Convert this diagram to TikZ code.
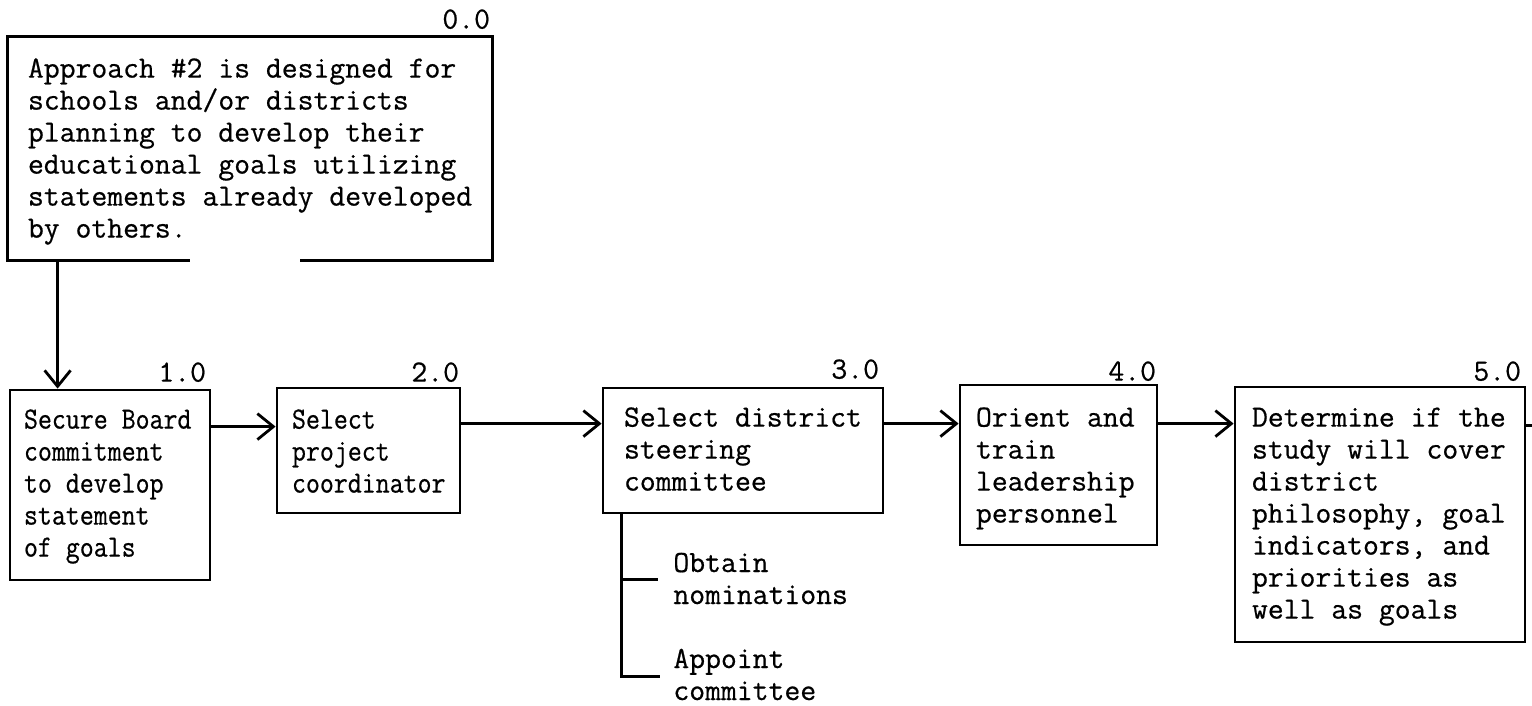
\documentclass[tikz,border=0pt]{standalone}
\usepackage{fontspec}
\usetikzlibrary{arrows.meta,calc,fit}
\newfontfamily\typewriter[FakeBold=0.6]{Latin Modern Mono}
\newfontfamily\narrowtype[FakeBold=0.6,FakeStretch=0.88]{Latin Modern Mono}
\newcommand\typefont{\fontsize{15.4pt}{16pt}\selectfont\typewriter}
\newcommand\narrowfont{\fontsize{15.4pt}{16pt}\selectfont\narrowtype}
\tikzset{
  stepbox/.style={draw, line width=1.4pt, inner sep=0pt},
  frame/.style={inner sep=0pt},
  txt/.style={anchor=base west, inner sep=0pt, font=\typefont},
  narrowtxt/.style={anchor=base west, inner sep=0pt, font=\narrowfont},
  num/.style={anchor=base east, inner sep=0pt, font=\typefont},
  flow/.style={line width=1.4pt, -{Straight Barb[length=8pt,width=13pt]}},
  link/.style={line width=1.4pt},
}
\newcommand\txtrows[1]{\begin{tabular}[t]{@{}l@{}}#1\end{tabular}}
\begin{document}
\begin{tikzpicture}[x=0.5pt,y=-0.5pt]
\useasboundingbox (0,0) rectangle (1532,706);

% introductory box, its bottom edge left open
\node[frame, fit={(8,37)(492,260)}] (b0) {};
\draw[link] ($(b0.south west)+(182,0)$) -- (b0.south west) -- (b0.north west)
  -- (b0.north east) -- (b0.south east) -- ($(b0.south west)+(292,0)$);
\node[txt] (t0) at ($(b0.north west)+(20,41)$) {\txtrows{%
  Approach \#2 is designed for\\
  schools and/or districts\\
  planning to develop their\\
  educational goals utilizing\\
  statements already developed\\
  by others.}};
\node[num] (n0) at ($(b0.north east)+(-2,-8)$) {0.0};

% step boxes
\node[stepbox, fit={(10,390)(210,580)}] (b1) {};
\node[stepbox, fit={(277,388)(460,513)}] (b2) {};
\node[stepbox, fit={(603,388)(883,513)}] (b3) {};
\node[stepbox, fit={(960,385)(1157,545)}] (b4) {};
\node[stepbox, fit={(1235,387)(1525,642)}] (b5) {};

\node[narrowtxt] (t1) at ($(b1.north west)+(15,40)$) {\txtrows{%
  Secure Board\\ commitment\\ to develop\\ statement\\ of goals}};
\node[narrowtxt] (t2) at ($(b2.north west)+(16,42)$) {\txtrows{%
  Select\\ project\\ coordinator}};
\node[txt] (t3) at ($(b3.north west)+(22,40)$) {\txtrows{%
  Select district\\ steering\\ committee}};
\node[txt] (t4) at ($(b4.north west)+(17,43)$) {\txtrows{%
  Orient and\\ train\\ leadership\\ personnel}};
\node[txt] (t5) at ($(b5.north west)+(18,41)$) {\txtrows{%
  Determine if the\\ study will cover\\ district\\ philosophy, goal\\
  indicators, and\\ priorities as\\ well as goals}};

\node[num] (n1) at ($(b1.north east)+(-5,-7)$) {1.0};
\node[num] (n2) at ($(b2.north east)+(-2,-5)$) {2.0};
\node[num] (n3) at ($(b3.north east)+(-5,-8)$) {3.0};
\node[num] (n4) at ($(b4.north east)+(-2,-3)$) {4.0};
\node[num] (n5) at ($(b5.north east)+(-5,-5)$) {5.0};

% flow connectors
\coordinate (c0) at ($(b0.south west)+(50,0)$);
\draw[flow] (c0) -- (c0 |- b1.north);
\coordinate (c1) at ($(b1.north east)+(0,38)$);
\draw[flow] (c1) -- (c1 -| b2.west);
\coordinate (c2) at ($(b2.north east)+(0,37)$);
\draw[flow] (c2) -- (c2 -| b3.west);
\coordinate (c3) at ($(b3.north east)+(0,37)$);
\draw[flow] (c3) -- (c3 -| b4.west);
\coordinate (c4) at ($(b4.north east)+(0,40)$);
\draw[flow] (c4) -- (c4 -| b5.west);
\coordinate (c5) at ($(b5.north east)+(0,40)$);
\coordinate (exit) at (1532,427);
\draw[link] (c5) -- (exit |- c5);

% sub-steps of step 3
\node[txt] (s1) at (673,572) {\txtrows{Obtain\\ nominations}};
\node[txt] (s2) at (673,668) {\txtrows{Appoint\\ committee}};
\coordinate (k0) at ($(b3.south west)+(20,0)$);
\coordinate (k1) at ($(k0)+(0,65)$);
\coordinate (k2) at ($(k0)+(0,162)$);
\draw[link] (k0) -- (k2) -- ($(k2 -| s2.west)+(-13,0)$);
\draw[link] (k1) -- ($(k1 -| s1.west)+(-15,0)$);
\end{tikzpicture}
\end{document}
